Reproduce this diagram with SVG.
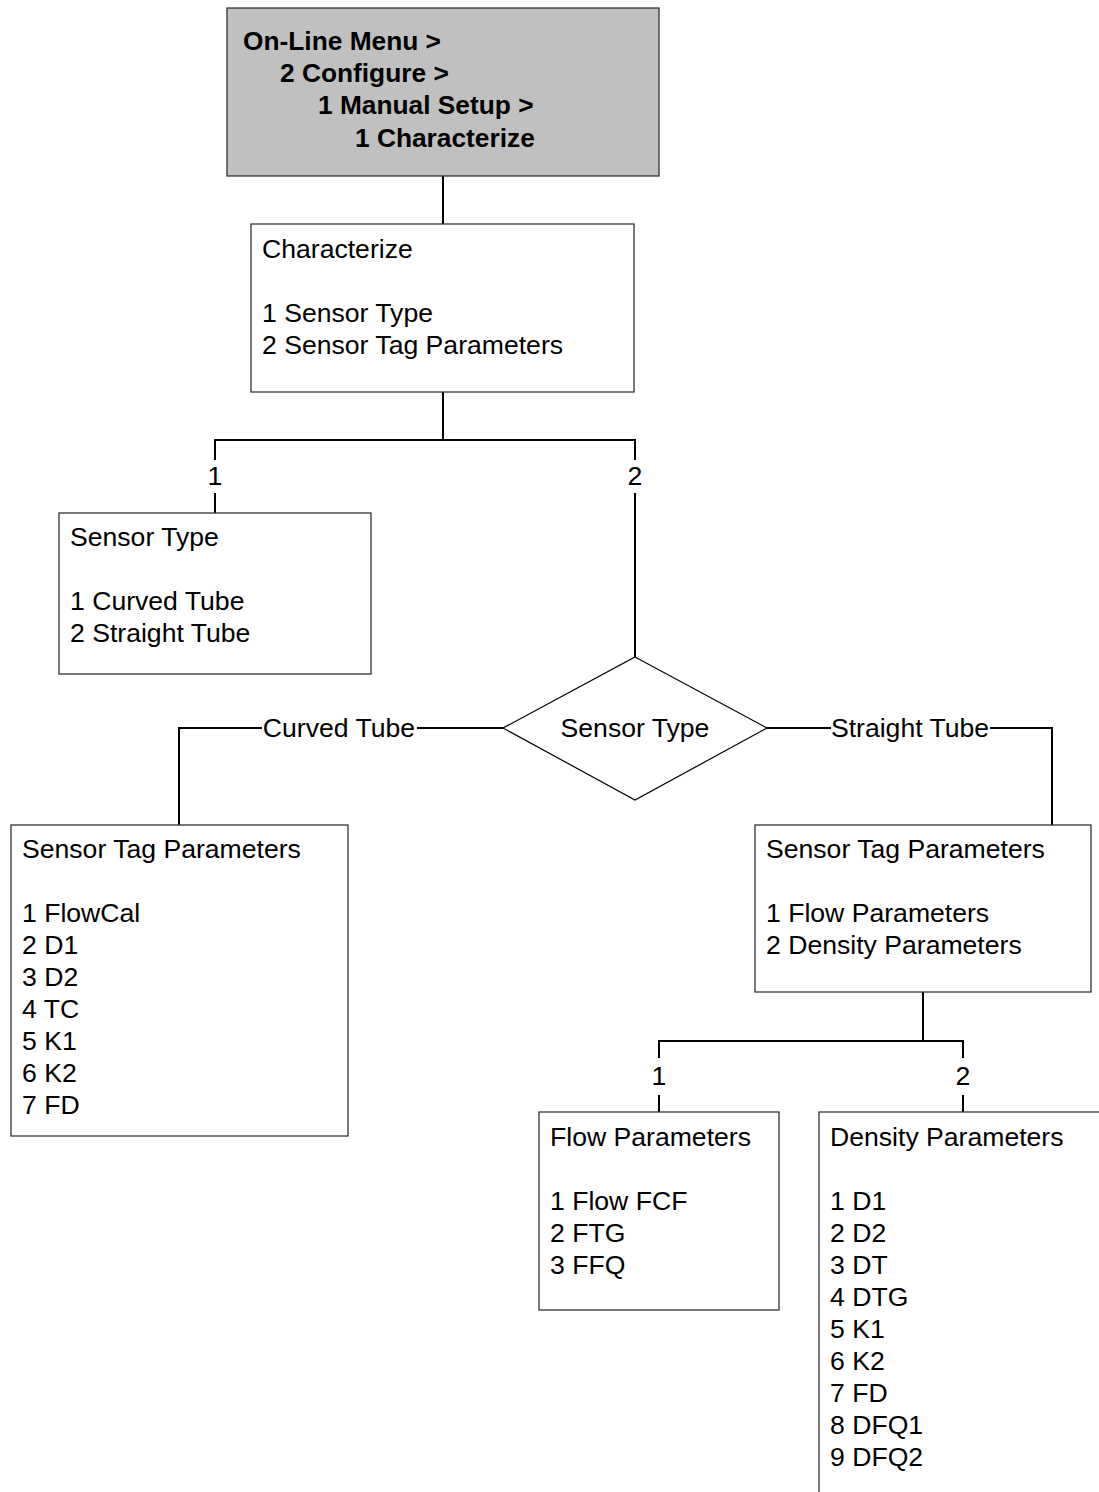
<svg xmlns="http://www.w3.org/2000/svg" width="1099" height="1492" viewBox="0 0 1099 1492">
<style>
  text { font-family: "Liberation Sans", Arial, sans-serif; font-size: 26.6px; fill: #000; }
  .b { font-weight: bold; font-size: 26.3px; }
  .box { fill: #fff; stroke: #333; stroke-width: 1.3; }
  .hdr { fill: #c0c0c0; stroke: #333; stroke-width: 1.3; }
  .dia { fill: #fff; stroke: #000; stroke-width: 1.2; }
  .c { fill: none; stroke: #000; stroke-width: 2; }
  .m { text-anchor: middle; }
</style>
<rect width="1099" height="1492" fill="#fff"/>
<g id="connectors">
  <path class="c" d="M443 176 V224"/>
  <path class="c" d="M443 392 V440 M215 460 V440 H635 V460"/>
  <path class="c" d="M215 493 V513"/>
  <path class="c" d="M635 493 V657"/>
  <text class="m" x="215" y="485">1</text>
  <text class="m" x="635" y="485">2</text>
  <path class="c" d="M503 728 H417 M262 728 H179 V825"/>
  <text class="m" x="339" y="737">Curved Tube</text>
  <path class="c" d="M767 728 H831 M990 728 H1052 V825"/>
  <text class="m" x="910" y="737">Straight Tube</text>
  <path class="c" d="M923 992 V1041 M659 1058 V1041 H963 V1058"/>
  <path class="c" d="M659 1095 V1112 M963 1095 V1112"/>
  <text class="m" x="659" y="1085">1</text>
  <text class="m" x="963" y="1085">2</text>
</g>
<g id="node-menu">
  <rect class="hdr" x="227" y="8" width="432" height="168"/>
  <text class="b" x="243" y="50">On-Line Menu &gt;</text>
  <text class="b" x="280" y="82">2 Configure &gt;</text>
  <text class="b" x="318" y="114">1 Manual Setup &gt;</text>
  <text class="b" x="355" y="147">1 Characterize</text>
</g>
<g id="node-characterize">
  <rect class="box" x="251" y="224" width="383" height="168"/>
  <text x="262" y="258">Characterize</text>
  <text x="262" y="322">1 Sensor Type</text>
  <text x="262" y="354">2 Sensor Tag Parameters</text>
</g>
<g id="node-sensor-type">
  <rect class="box" x="59" y="513" width="312" height="161"/>
  <text x="70" y="546">Sensor Type</text>
  <text x="70" y="610">1 Curved Tube</text>
  <text x="70" y="642">2 Straight Tube</text>
</g>
<g id="node-decision">
  <polygon class="dia" points="635,657 767,728 635,800 503,728"/>
  <text class="m" x="635" y="737">Sensor Type</text>
</g>
<g id="node-tag-curved">
  <rect class="box" x="11" y="825" width="337" height="311"/>
  <text x="22" y="858">Sensor Tag Parameters</text>
  <text x="22" y="922">1 FlowCal</text>
  <text x="22" y="954">2 D1</text>
  <text x="22" y="986">3 D2</text>
  <text x="22" y="1018">4 TC</text>
  <text x="22" y="1050">5 K1</text>
  <text x="22" y="1082">6 K2</text>
  <text x="22" y="1114">7 FD</text>
</g>
<g id="node-tag-straight">
  <rect class="box" x="755" y="825" width="336" height="167"/>
  <text x="766" y="858">Sensor Tag Parameters</text>
  <text x="766" y="922">1 Flow Parameters</text>
  <text x="766" y="954">2 Density Parameters</text>
</g>
<g id="node-flow">
  <rect class="box" x="539" y="1112" width="240" height="198"/>
  <text x="550" y="1146">Flow Parameters</text>
  <text x="550" y="1210">1 Flow FCF</text>
  <text x="550" y="1242">2 FTG</text>
  <text x="550" y="1274">3 FFQ</text>
</g>
<g id="node-density">
  <rect class="box" x="819" y="1112" width="300" height="400"/>
  <text x="830" y="1146">Density Parameters</text>
  <text x="830" y="1210">1 D1</text>
  <text x="830" y="1242">2 D2</text>
  <text x="830" y="1274">3 DT</text>
  <text x="830" y="1306">4 DTG</text>
  <text x="830" y="1338">5 K1</text>
  <text x="830" y="1370">6 K2</text>
  <text x="830" y="1402">7 FD</text>
  <text x="830" y="1434">8 DFQ1</text>
  <text x="830" y="1466">9 DFQ2</text>
</g>
</svg>
